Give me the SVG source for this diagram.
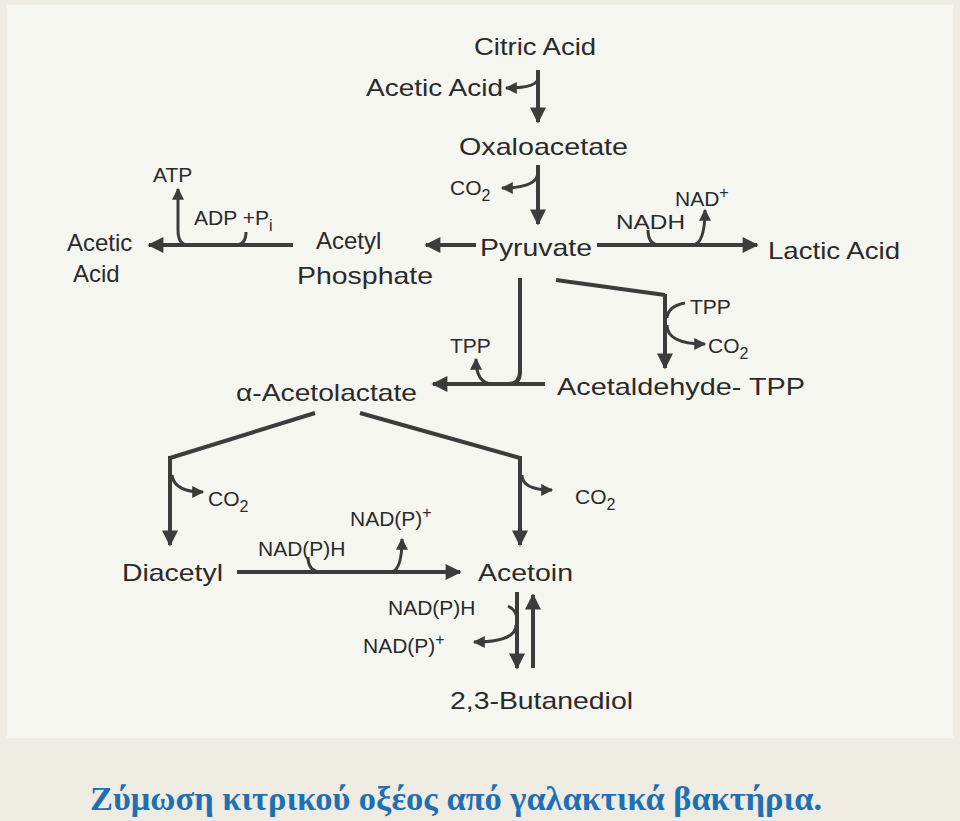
<svg xmlns="http://www.w3.org/2000/svg" width="960" height="821" viewBox="0 0 960 821">
<defs>
<marker id="ah" viewBox="0 0 10 10" refX="9" refY="5" markerWidth="4.5" markerHeight="4" orient="auto" markerUnits="strokeWidth"><path d="M0,0 L10,5 L0,10 z" fill="#3c3c3c"/></marker>
</defs>
<style>
text{font-family:"Liberation Sans",Arial,sans-serif;font-size:24px;fill:#2a2a2a}
.s{font-size:21px}
.l{fill:none;stroke:#3c3c3c;stroke-width:4}
.a{marker-end:url(#ah)}
.t{stroke-width:3}
.cap{font-family:"Liberation Serif","Times New Roman",serif;font-size:34px;font-weight:bold;fill:#1f6fb5}
</style>
<rect width="960" height="821" fill="#eeebe2"/>
<rect x="7" y="5" width="946" height="733" fill="#f6f6f1"/>
<g id="nodes">
<g id="citric"><text x="474" y="55" textLength="122" lengthAdjust="spacingAndGlyphs">Citric Acid</text></g>
<g id="aceticacid1"><text x="366" y="96" textLength="137" lengthAdjust="spacingAndGlyphs">Acetic Acid</text></g>
<g id="oxaloacetate"><text x="459" y="155" textLength="169" lengthAdjust="spacingAndGlyphs">Oxaloacetate</text></g>
<g id="co2a"><text x="450" y="195" class="s">CO<tspan dy="6" font-size="16">2</tspan></text></g>
<g id="atp"><text x="153" y="182" class="s">ATP</text></g>
<g id="adp"><text x="194" y="225" class="s">ADP +P<tspan dy="6" font-size="16">i</tspan></text></g>
<g id="nadplus"><text x="675" y="206" class="s">NAD<tspan dy="-8" font-size="16">+</tspan></text></g>
<g id="nadh"><text x="616" y="229" class="s" textLength="69" lengthAdjust="spacingAndGlyphs">NADH</text></g>
<g id="aceticacid2"><text x="67" y="251">Acetic</text><text x="73" y="282">Acid</text></g>
<g id="acetylphosphate"><text x="316" y="249">Acetyl</text><text x="297" y="284" textLength="136" lengthAdjust="spacingAndGlyphs">Phosphate</text></g>
<g id="pyruvate"><text x="480" y="256" textLength="112" lengthAdjust="spacingAndGlyphs">Pyruvate</text></g>
<g id="lactic"><text x="768" y="259" textLength="132" lengthAdjust="spacingAndGlyphs">Lactic Acid</text></g>
<g id="tpp1"><text x="690" y="314" class="s">TPP</text></g>
<g id="co2b"><text x="708" y="353" class="s">CO<tspan dy="6" font-size="16">2</tspan></text></g>
<g id="tpp2"><text x="450" y="353" class="s">TPP</text></g>
<g id="acetolactate"><text x="236" y="401" textLength="181" lengthAdjust="spacingAndGlyphs">α-Acetolactate</text></g>
<g id="acetaldehyde"><text x="557" y="395" textLength="248" lengthAdjust="spacingAndGlyphs">Acetaldehyde- TPP</text></g>
<g id="co2c"><text x="208" y="506" class="s">CO<tspan dy="6" font-size="16">2</tspan></text></g>
<g id="co2d"><text x="575" y="504" class="s">CO<tspan dy="6" font-size="16">2</tspan></text></g>
<g id="nadp1"><text x="350" y="526" class="s">NAD(P)<tspan dy="-8" font-size="16">+</tspan></text></g>
<g id="nadph1"><text x="258" y="556" class="s">NAD(P)H</text></g>
<g id="diacetyl"><text x="122" y="581" textLength="101" lengthAdjust="spacingAndGlyphs">Diacetyl</text></g>
<g id="acetoin"><text x="478" y="581" textLength="95" lengthAdjust="spacingAndGlyphs">Acetoin</text></g>
<g id="nadph2"><text x="388" y="615" class="s">NAD(P)H</text></g>
<g id="nadp2"><text x="363" y="653" class="s">NAD(P)<tspan dy="-8" font-size="16">+</tspan></text></g>
<g id="butanediol"><text x="450" y="709" textLength="183" lengthAdjust="spacingAndGlyphs">2,3-Butanediol</text></g>
</g>
<g id="connectors">
<path class="l a" d="M538,70 V122"/>
<path class="l a t" d="M538,78 Q538,88 506,88"/>
<path class="l a" d="M538,165 V224"/>
<path class="l a t" d="M538,172 Q538,188 502,188"/>
<path class="l a" d="M476,245 H426"/>
<path class="l a" d="M293,245 H149"/>
<path class="l a t" d="M188,245 Q178,245 178,230 V189"/>
<path class="l t" d="M246,232 Q246,245 235,245"/>
<path class="l a" d="M597,245 H757"/>
<path class="l t" d="M648,230 Q648,245 660,245"/>
<path class="l a t" d="M692,245 Q705,245 705,210"/>
<path class="l" d="M520,278 V372 Q520,384 508,384 H545"/>
<path class="l a" d="M520,384 H433"/>
<path class="l a t" d="M493,384 Q476,384 476,359"/>
<path class="l" d="M556,280 L665,295"/>
<path class="l a" d="M665,294 V368"/>
<path class="l t" d="M685,303 Q668,306 667,318"/>
<path class="l a t" d="M667,325 Q667,344 705,344"/>
<path class="l" d="M315,413 L170,458"/>
<path class="l a" d="M170,456 V545"/>
<path class="l a t" d="M172,475 Q174,492 203,492"/>
<path class="l" d="M360,413 L520,458"/>
<path class="l a" d="M520,456 V545"/>
<path class="l a t" d="M522,475 Q522,490 552,490"/>
<path class="l a" d="M237,572 H460"/>
<path class="l t" d="M308,557 Q308,572 322,572"/>
<path class="l a t" d="M390,572 Q402,572 402,539"/>
<path class="l a" d="M517,592 V668"/>
<path class="l a" d="M533,668 V595"/>
<path class="l t" d="M508,606 Q517,610 517,620"/>
<path class="l a t" d="M516,625 Q516,642 474,642"/>
</g>
<text class="cap" x="90" y="810" textLength="732" lengthAdjust="spacingAndGlyphs">Ζύμωση κιτρικού οξέος από γαλακτικά βακτήρια.</text>
</svg>
